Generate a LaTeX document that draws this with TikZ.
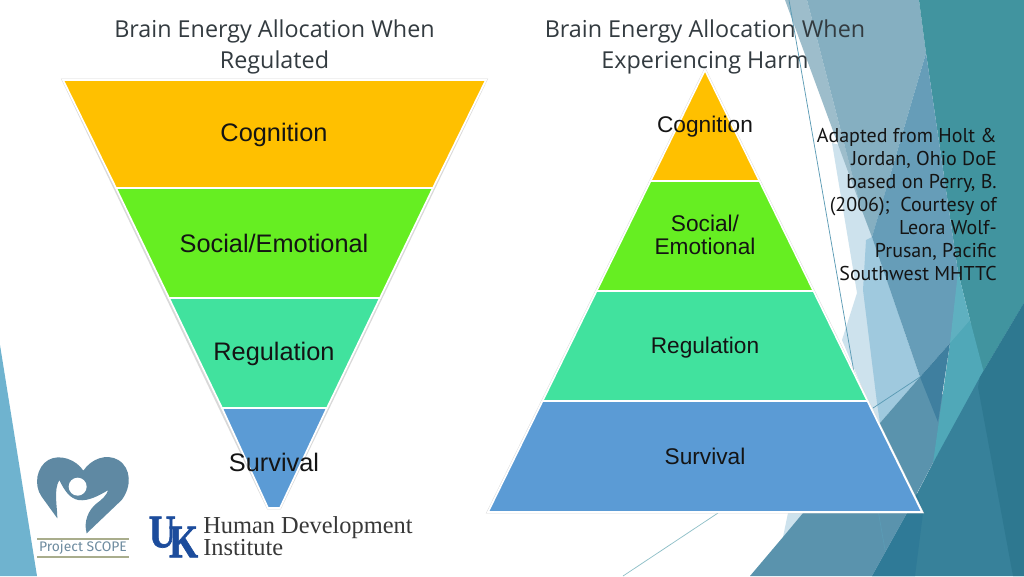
\documentclass[tikz,border=0pt]{standalone}
\usepackage{fontspec}
\usepackage{graphicx}
\setmainfont{Liberation Sans}
\newfontfamily\headfont{Open Sans}
\newfontfamily\notefont{PT Sans}
\newfontfamily\logoserif{Liberation Serif}
\newfontfamily\ukfont[UprightFont=* Bold,FakeBold=1.5]{Liberation Serif}
\newfontfamily\scopefont{Fira Sans}
\definecolor{orangeL}{HTML}{FFC000}
\definecolor{greenL}{HTML}{66EE22}
\definecolor{mintL}{HTML}{41E29E}
\definecolor{blueL}{HTML}{5B9BD5}
\definecolor{heartC}{HTML}{5F89A3}
\definecolor{ukblue}{HTML}{1C4C9C}
\definecolor{headC}{HTML}{333B40}
\definecolor{accL}{HTML}{6FB3CF}
\definecolor{paleA}{HTML}{CDE2ED}
\definecolor{paleB}{HTML}{9FC9DE}
\definecolor{bandA}{HTML}{9DBDCB}
\definecolor{bandB}{HTML}{85AFC1}
\definecolor{midB}{HTML}{669DB8}
\definecolor{tealA}{HTML}{41949F}
\definecolor{tealL}{HTML}{50A8B8}
\definecolor{tealM}{HTML}{5FB0C0}
\definecolor{greyB}{HTML}{5A93AD}
\definecolor{darkB}{HTML}{3F7F9F}
\definecolor{deepA}{HTML}{37819A}
\definecolor{deepB}{HTML}{2E7890}
\definecolor{deepC}{HTML}{2F7A97}
\definecolor{lineA}{HTML}{5B9BB5}
\definecolor{lineB}{HTML}{8FC0C8}
\definecolor{oliveL}{HTML}{A9AD8C}
\definecolor{scopeT}{HTML}{6E8CA0}
\tikzset{
  layer/.style={draw=white,line width=1.3pt,line join=miter},
  halo/.style={draw=black!15,line width=1.9pt,line join=miter},
  big/.style={font=\fontsize{19}{21}\selectfont,text=black!92,anchor=center,inner sep=0pt},
  small/.style={font=\fontsize{17}{17.3}\selectfont,text=black!92,anchor=center,inner sep=0pt,align=center},
  headtxt/.style={font=\headfont\fontsize{17.5}{20}\selectfont,text=headC,anchor=base,inner sep=0pt},
  notetxt/.style={font=\notefont\fontsize{15}{17}\selectfont,text=black!92,anchor=base east,inner sep=0pt},
  hdi/.style={font=\logoserif\fontsize{18.3}{20}\selectfont,text=black!78,anchor=base west,inner sep=0pt},
  uk/.style={font=\ukfont\fontsize{28}{28}\selectfont,text=ukblue,inner sep=0pt},
  thinb/.style={draw=#1,line width=0.55pt}
}
\begin{document}
\begin{tikzpicture}[x=0.75pt,y=-0.75pt]
\useasboundingbox (0,0) rectangle (1024,576);
\fill[white] (0,0) rectangle (1024,576);
% left accent
\fill[accL] (0,345) -- (37,576) -- (0,576) -- cycle;
% background facets
\fill[paleA] (832,143) -- (857,293) -- (842,340) -- (878,425) -- (900,400) -- (900,200) -- (860,150) -- cycle;
\fill[paleB] (866,240) -- (872,237) -- (920,377) -- (880,423) -- (877,403) -- (863,290) -- cycle;
\fill[bandA] (785,0) -- (807,0) -- (860,205) -- (872,237) -- cycle;
\fill[bandB] (807,0) -- (919,0) -- (926,53) -- (872,237) -- (860,205) -- cycle;
\fill[tealA] (919,0) -- (1024,0) -- (1024,303) -- (980,377) -- (970,320) -- (958,272) -- (926,53) -- cycle;
\fill[greyB] (880,423) -- (920,377) -- (950,400) -- (945,440) -- (917,493) -- (907,513) -- (890,513) -- cycle;
\fill[midB] (926,53) -- (872,237) -- (920,377) -- (950,343) -- (968,320) -- (958,272) -- cycle;
\fill[tealL] (958,290) -- (970,320) -- (985,377) -- (933,463) -- (950,343) -- cycle;
\fill[tealM] (958,272) -- (970,320) -- (950,343) -- cycle;
\fill[darkB] (920,377) -- (950,343) -- (938,422) -- cycle;
\fill[deepA] (1024,303) -- (1024,576) -- (872,576) -- (907,513) -- (933,463) -- (980,377) -- cycle;
\fill[deepB] (978,387) -- (1013,576) -- (1024,576) -- (1024,303) -- (980,377) -- cycle;
\fill[deepC] (923,513) -- (915,576) -- (872,576) -- (907,513) -- (917,493) -- cycle;
\fill[paleA] (788,513) -- (803,513) -- (783,537) -- cycle;
\fill[greyB] (803,513) -- (907,513) -- (872,576) -- (750,576) -- (783,537) -- cycle;
\coordinate (ta) at (789,0); \coordinate (tb) at (885,550);
\coordinate (tc) at (873,408); \coordinate (td) at (920,377);
\coordinate (te) at (718,513); \coordinate (tf) at (623,576);
\draw[thinb=lineA] (ta) -- (tb);
\draw[thinb=lineA] (tc) -- (td);
\draw[thinb=lineB] (te) -- (tf);
% left inverted pyramid
\draw[halo] (63,80) -- (486,80) -- (280,508) -- (268,508) -- cycle;
\fill[orangeL,layer] (63,80) -- (486,80) -- (433,188) -- (116,188) -- cycle;
\fill[greenL,layer] (116,188) -- (433,188) -- (380,298) -- (169,298) -- cycle;
\fill[mintL,layer] (169,298) -- (380,298) -- (327,408) -- (222,408) -- cycle;
\fill[blueL,layer] (222,408) -- (327,408) -- (280,508) -- (268,508) -- cycle;
\node[big] (lcog) at (274,135) {Cognition};
\node[big] (lsoc) at (274,243) {Social/Emotional};
\node[big] (lreg) at (274,354) {Regulation};
\node[big] (lsur) at (274,462) {Survival};
% right pyramid
\draw[halo] (705,70) -- (922,512) -- (488,512) -- cycle;
\fill[orangeL,layer] (705,70) -- (759.5,181) -- (650.5,181) -- cycle;
\fill[greenL,layer] (650.5,181) -- (759.5,181) -- (813.5,291) -- (596.5,291) -- cycle;
\fill[mintL,layer] (596.5,291) -- (813.5,291) -- (867.5,401) -- (542.5,401) -- cycle;
\fill[blueL,layer] (542.5,401) -- (867.5,401) -- (922,512) -- (488,512) -- cycle;
\node[small] (rcog) at (705,127) {Cognition};
\node[small] (rsoc) at (705,235) {Social/\\Emotional};
\node[small] (rreg) at (705,348) {Regulation};
\node[small] (rsur) at (705,456) {Survival};
% headings
\node[headtxt] (h1a) at (274.5,37) {Brain Energy Allocation When};
\node[headtxt] (h1b) at (274.5,68) {Regulated};
\node[headtxt] (h2a) at (705,37) {Brain Energy Allocation When};
\node[headtxt] (h2b) at (705,68) {Experiencing Harm};
% source note
\node[notetxt] (n1) at (997,142) {Adapted from Holt \&};
\node[notetxt] (n2) at (997,165) {Jordan, Ohio DoE};
\node[notetxt] (n3) at (997,188) {based on Perry, B.};
\node[notetxt] (n4) at (997,211) {(2006);\ \ Courtesy of};
\node[notetxt] (n5) at (997,234) {Leora Wolf-};
\node[notetxt] (n6) at (997,257) {Prusan, Pacific};
\node[notetxt] (n7) at (997,280) {Southwest MHTTC};
% Project SCOPE logo
\begin{scope}[shift={(30,450)},x=0.25pt,y=-0.25pt]
\fill[heartC] (82,205) -- (35,140) .. controls (10,105) and (20,50) .. (55,30)
  .. controls (90,10) and (140,30) .. (160,62)
  .. controls (185,25) and (230,10) .. (265,30)
  .. controls (305,55) and (305,110) .. (275,150) -- (170,250)
  .. controls (160,215) and (175,180) .. (200,160)
  .. controls (215,150) and (230,135) .. (235,120)
  .. controls (210,135) and (175,155) .. (145,150)
  .. controls (120,145) and (105,125) .. (88,90)
  .. controls (70,120) and (82,170) .. (82,205) -- cycle;
\fill[white] (143,110) circle[radius=27];
\end{scope}
\draw[oliveL,line width=0.8pt] (37,539) -- (129,539);
\draw[oliveL,line width=0.8pt] (37,557) -- (129,557);
\node[font=\scopefont\fontsize{10.4}{12}\selectfont,text=scopeT,inner sep=0pt] (scope) at (83,548) {Project SCOPE};
% UK logo and Human Development Institute
\node[uk] (ukL) at (173.5,537) {\scalebox{1}[1.25]{U\kern-5pt\raisebox{-6pt}{K}}};
\node[hdi] (hd1) at (203,533) {Human Development};
\node[hdi] (hd2) at (203,555) {Institute};
\end{tikzpicture}
\end{document}
